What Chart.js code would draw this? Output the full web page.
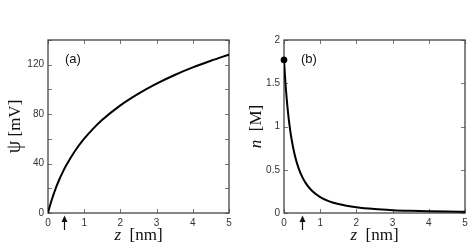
<!DOCTYPE html>
<html>
<head>
<meta charset="utf-8">
<script src="https://cdn.jsdelivr.net/npm/chart.js@4.4.1/dist/chart.umd.min.js"></script>
<style>
  html, body { margin: 0; padding: 0; background: #fff; }
  #wrap { position: relative; width: 472px; height: 248px; }
  canvas { position: absolute; top: 0; }
  #left { left: 0; }
  #right { left: 236px; }
</style>
</head>
<body>
<div id="wrap">
  <canvas id="left" width="236" height="248"></canvas>
  <canvas id="right" width="236" height="248"></canvas>
</div>
<script>
// panel (a): potential vs distance
const zPsi = [0, 0.05, 0.1, 0.2, 0.3, 0.4, 0.5, 0.75, 1, 1.25, 1.5, 2, 2.5, 3, 3.5, 4, 4.5, 5];
const psiValues = [0, 5.4, 10.3, 18.9, 26.3, 32.7, 38.4, 50.4, 60.1, 68.3, 75.4, 87.1, 96.6, 104.7, 111.7, 117.8, 123.2, 128.2];

// panel (b): counterion concentration vs distance
const zN = [0, 0.025, 0.05, 0.1, 0.15, 0.2, 0.3, 0.4, 0.5, 0.6, 0.75, 1, 1.25, 1.5, 2, 2.5, 3, 3.5, 4, 4.5, 5];
const nValues = [1.77, 1.597, 1.446, 1.207, 1.021, 0.876, 0.664, 0.521, 0.42, 0.345, 0.266, 0.184, 0.134, 0.103, 0.066, 0.045, 0.033, 0.0255, 0.02, 0.0163, 0.0135];
const nWall = [{ x: 0, y: 1.77 }];

// arrows mark the Gouy-Chapman length
const arrowZ = [0.45, 0.5];
const panelLabels = ['(a)', '(b)'];

const SERIF = '"Liberation Serif", "Times New Roman", serif';
const SANS = '"Liberation Sans", Arial, sans-serif';

Chart.defaults.font.family = SANS;

const framePlugin = {
  id: 'frame',
  beforeDatasetsDraw(chart) {
    const { ctx, chartArea: a, scales: { x, y } } = chart;
    ctx.save();
    ctx.strokeStyle = '#777';
    ctx.lineWidth = 1;
    ctx.beginPath();
    x.ticks.forEach(t => {
      const px = Math.round(x.getPixelForValue(t.value)) + 0.5;
      ctx.moveTo(px, a.bottom); ctx.lineTo(px, a.bottom - 4);
      ctx.moveTo(px, a.top); ctx.lineTo(px, a.top + 4);
    });
    y.ticks.forEach(t => {
      const py = Math.round(y.getPixelForValue(t.value)) + 0.5;
      ctx.moveTo(a.left, py); ctx.lineTo(a.left + 4, py);
      ctx.moveTo(a.right, py); ctx.lineTo(a.right - 4, py);
    });
    ctx.stroke();
    ctx.strokeStyle = '#444';
    ctx.lineWidth = 1.3;
    ctx.strokeRect(a.left, a.top, a.right - a.left, a.bottom - a.top);
    ctx.restore();
  },
  afterDraw(chart, args, o) {
    const { ctx, chartArea: a, scales: { x } } = chart;
    ctx.save();
    ctx.fillStyle = '#111';

    // panel label
    ctx.font = '13px ' + SANS;
    ctx.textAlign = 'left';
    ctx.textBaseline = 'middle';
    ctx.fillText(o.label, a.left + 17, a.top + 19);

    // arrow below the axis
    const ax = Math.round(x.getPixelForValue(o.arrowZ)) + 0.5;
    ctx.strokeStyle = '#111';
    ctx.lineWidth = 1.2;
    ctx.beginPath();
    ctx.moveTo(ax, a.bottom + 8);
    ctx.lineTo(ax, a.bottom + 17);
    ctx.stroke();
    ctx.beginPath();
    ctx.moveTo(ax, a.bottom + 2.5);
    ctx.lineTo(ax - 3, a.bottom + 9);
    ctx.lineTo(ax + 3, a.bottom + 9);
    ctx.closePath();
    ctx.fill();

    // mixed-style axis titles
    const drawParts = (parts, cx, cy) => {
      let w = 0;
      parts.forEach(p => { ctx.font = p.font; w += ctx.measureText(p.text).width; });
      let px = cx - w / 2;
      ctx.textAlign = 'left';
      ctx.textBaseline = 'alphabetic';
      parts.forEach(p => {
        ctx.font = p.font;
        ctx.fillText(p.text, px, cy);
        px += ctx.measureText(p.text).width;
      });
    };
    drawParts(o.xTitle, (a.left + a.right) / 2, 239.5);

    ctx.translate(o.yTitleX, (a.top + a.bottom) / 2);
    ctx.rotate(-Math.PI / 2);
    drawParts(o.yTitle, 0, 0);
    ctx.restore();
  }
};

const xTitle = [
  { text: 'z', font: 'italic 17px ' + SERIF },
  { text: '  [nm]', font: '17px ' + SERIF }
];

function makeChart(id, datasets, yOpts, frame) {
  new Chart(document.getElementById(id), {
    type: 'scatter',
    data: { datasets },
    options: {
      responsive: false,
      animation: false,
      events: [],
      layout: { padding: { top: 40, right: 7, left: 0, bottom: 0 } },
      plugins: {
        legend: { display: false },
        tooltip: { enabled: false },
        frame
      },
      scales: {
        x: {
          type: 'linear',
          min: 0,
          max: 5,
          afterFit: s => { s.height = 35; },
          grid: { display: false, drawTicks: false },
          border: { display: false },
          ticks: { stepSize: 1, padding: 4, color: '#333', font: { size: 10 }, maxRotation: 0, autoSkip: false }
        },
        y: Object.assign({
          type: 'linear',
          afterFit: s => { s.width = 48; },
          grid: { display: false, drawTicks: false },
          border: { display: false }
        }, yOpts)
      }
    },
    plugins: [framePlugin]
  });
}

makeChart('left', [{
  data: zPsi.map((z, i) => ({ x: z, y: psiValues[i] })),
  showLine: true,
  borderColor: '#000',
  borderWidth: 2,
  pointRadius: 0,
  cubicInterpolationMode: 'monotone'
}], {
  min: 0,
  max: 140,
  ticks: {
    stepSize: 20, padding: 4, color: '#333', font: { size: 10 }, autoSkip: false,
    callback: v => (v % 40 === 0 ? v : '')
  }
}, {
  label: panelLabels[0],
  arrowZ: arrowZ[0],
  xTitle,
  yTitleX: 19.5,
  yTitle: [
    { text: 'ψ', font: '20px ' + SERIF },
    { text: ' [mV]', font: '17px ' + SERIF }
  ]
});

makeChart('right', [{
  data: zN.map((z, i) => ({ x: z, y: nValues[i] })),
  showLine: true,
  borderColor: '#000',
  borderWidth: 2,
  pointRadius: 0,
  cubicInterpolationMode: 'monotone'
}, {
  data: nWall,
  pointRadius: 3,
  pointBackgroundColor: '#000',
  pointBorderColor: '#000',
  clip: false
}], {
  min: 0,
  max: 2,
  ticks: {
    stepSize: 0.5, padding: 4, color: '#333', font: { size: 10 }, autoSkip: false,
    callback: v => String(Number(v.toFixed(1)))
  }
}, {
  label: panelLabels[1],
  arrowZ: arrowZ[1],
  xTitle,
  yTitleX: 24.5,
  yTitle: [
    { text: 'n', font: 'italic 17px ' + SERIF },
    { text: '  [M]', font: '17px ' + SERIF }
  ]
});
</script>
</body>
</html>
